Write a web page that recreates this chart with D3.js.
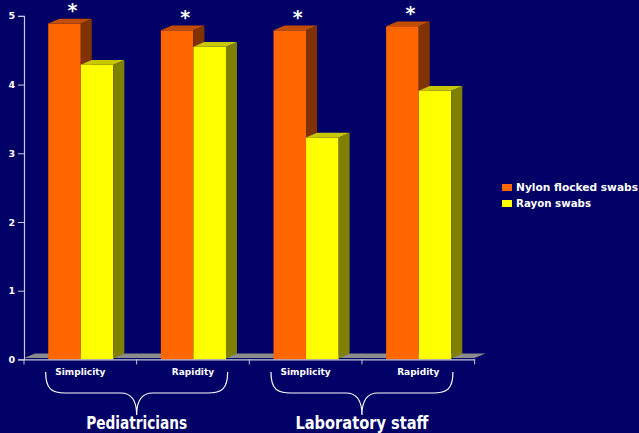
<!DOCTYPE html>
<html>
<head>
<meta charset="utf-8">
<script src="https://cdn.jsdelivr.net/npm/d3@7/dist/d3.min.js"></script>
<style>
  html, body { margin: 0; padding: 0; background: #000066; }
  svg { display: block; }
  text { font-family: "DejaVu Sans", Verdana, sans-serif; font-weight: bold; fill: #ffffff; }
</style>
</head>
<body>
<svg id="chart" width="639" height="433"></svg>
<script>
// Survey scores: ease of use of the two swab types, rated by two groups
const categories = ["Simplicity", "Rapidity", "Simplicity", "Rapidity"];
const groups = ["Pediatricians", "Laboratory staff"];
const nylonValues = [4.89, 4.79, 4.79, 4.85];
const rayonValues = [4.29, 4.55, 3.23, 3.91];
const significant = [true, true, true, true];
const yTicks = [0, 1, 2, 3, 4, 5];
const seriesNames = ["Nylon flocked swabs", "Rayon swabs"];

const W = 639, H = 433;
const svg = d3.select("#chart");
svg.append("rect").attr("width", W).attr("height", H).attr("fill", "#000066");

const x0 = 24, x1 = 474.6;
const yBase = 359.4, yTop = 15.9;
const dx = 11, dy = -4.8; // 3D depth offset

const x = d3.scaleBand().domain(d3.range(categories.length)).range([x0, x1]).paddingInner(0).paddingOuter(0);
const y = d3.scaleLinear().domain([0, 5]).range([yBase, yTop]);
const bw = x.bandwidth();
const barW = bw * 0.289;
const groupOff = bw * 0.215;

const palette = [
  { front: "#ff6600", side: "#803300", top: "#c04d00" },
  { front: "#ffff00", side: "#808000", top: "#c8c800" }
];

// Floor slab
svg.append("path")
  .attr("d", `M${x0},${yBase - 1.5} L${x1},${yBase - 1.5} L${x1 + dx},${yBase + dy - 1} L${x0 + dx},${yBase + dy - 1} Z`)
  .attr("fill", "#8c8c8c");

// Bars with front, side and top faces
function bar(g, xl, v, col) {
  const yt = y(v);
  g.append("rect").attr("x", xl).attr("y", yt).attr("width", barW).attr("height", yBase - yt).attr("fill", col.front);
  g.append("path")
    .attr("d", `M${xl + barW},${yt} L${xl + barW + dx},${yt + dy} L${xl + barW + dx},${yBase + dy - 1} L${xl + barW},${yBase - 1} Z`)
    .attr("fill", col.side);
  g.append("path")
    .attr("d", `M${xl},${yt} L${xl + dx},${yt + dy} L${xl + barW + dx},${yt + dy} L${xl + barW},${yt} Z`)
    .attr("fill", col.top);
}

const bars = svg.append("g");
categories.forEach((c, i) => {
  const xl = x(i) + groupOff;
  bar(bars, xl, nylonValues[i], palette[0]);
  bar(bars, xl + barW, rayonValues[i], palette[1]);
  if (significant[i]) {
    svg.append("text")
      .attr("x", xl + barW / 2 + 8)
      .attr("y", y(nylonValues[i]) - 6)
      .attr("text-anchor", "middle")
      .attr("font-size", 19)
      .text("*");
  }
});

// Y axis
const yAxis = d3.axisLeft(y).tickValues(yTicks).tickSize(6).tickPadding(3).tickFormat(d3.format("d"));
const gy = svg.append("g").attr("transform", `translate(${x0},0)`).call(yAxis);
gy.select(".domain").attr("stroke", "#c8c8dc").attr("stroke-width", 1.2);
gy.selectAll(".tick line").attr("stroke", "#c8c8dc");
gy.selectAll(".tick text").attr("font-size", 9.5).attr("font-family", "DejaVu Sans").attr("font-weight", "bold").attr("fill", "#ffffff");

// X axis: baseline, boundary ticks and category labels
const xAxis = d3.axisBottom(x).tickSize(0).tickPadding(9).tickFormat(i => categories[i]);
const gx = svg.append("g").attr("transform", `translate(0,${yBase})`).call(xAxis);
gx.select(".domain").attr("stroke", "#c8c8dc").attr("stroke-width", 1.2);
gx.selectAll(".tick text").attr("font-size", 9).attr("font-family", "DejaVu Sans").attr("font-weight", "bold").attr("fill", "#ffffff");
d3.range(categories.length + 1).forEach(i => {
  const xp = i < categories.length ? x(i) : x1;
  gx.append("line").attr("x1", xp).attr("x2", xp).attr("y1", 0).attr("y2", 5).attr("stroke", "#c8c8dc");
});

// Group braces and labels
const groupLabelWidths = [101, 133];
groups.forEach((gname, gi) => {
  const cx = x(gi * 2 + 1);
  const half = 91;
  const l = cx - half, r = cx + half;
  const yt = 372, yh = 393, yp = 415;
  const d = `M${l},${yt} C${l},${yh - 4} ${l + 6},${yh} ${l + 20},${yh} L${cx - 16},${yh} C${cx - 6},${yh} ${cx},${yh + 6} ${cx},${yp}` +
            ` C${cx},${yh + 6} ${cx + 6},${yh} ${cx + 16},${yh} L${r - 20},${yh} C${r - 6},${yh} ${r},${yh - 4} ${r},${yt}`;
  svg.append("path").attr("d", d).attr("fill", "none").attr("stroke", "#ffffff").attr("stroke-width", 1.2);
  svg.append("text").attr("x", cx).attr("y", 428.5).attr("text-anchor", "middle").attr("font-size", 17)
    .attr("textLength", groupLabelWidths[gi]).attr("lengthAdjust", "spacingAndGlyphs")
    .text(gname);
});

// Legend
const legendWidths = [122, 75];
const legend = svg.append("g");
seriesNames.forEach((n, i) => {
  const ly = 184 + i * 16;
  legend.append("rect").attr("x", 502).attr("y", ly).attr("width", 10).attr("height", 7).attr("fill", palette[i].front);
  legend.append("text").attr("x", 516).attr("y", ly + 7).attr("font-size", 10)
    .attr("textLength", legendWidths[i]).attr("lengthAdjust", "spacingAndGlyphs")
    .text(n);
});
</script>
</body>
</html>
